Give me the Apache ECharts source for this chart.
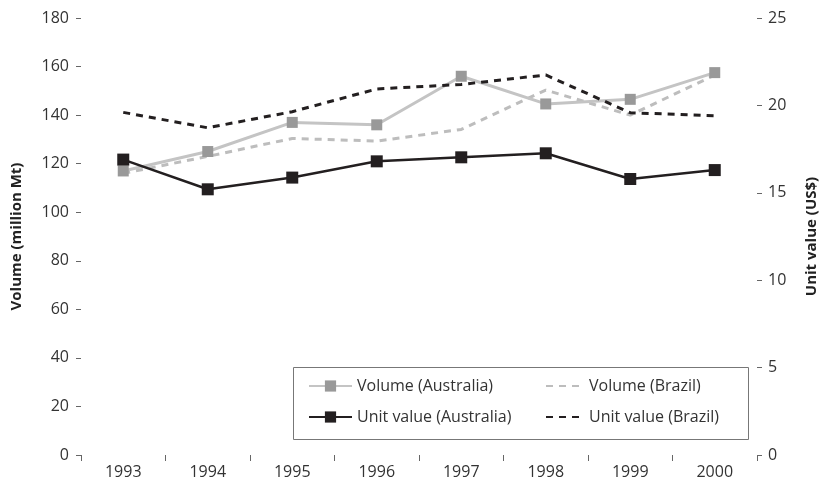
<!DOCTYPE html>
<html>
<head>
<meta charset="utf-8">
<script src="https://cdn.jsdelivr.net/npm/echarts@6/dist/echarts.min.js"></script>
<style>
  html, body { margin:0; padding:0; background:#fff; }
  #chart { width:823px; height:488px; }
</style>
</head>
<body>
<div id="chart"></div>
<script>
const years = ['1993','1994','1995','1996','1997','1998','1999','2000'];
const volumeAustralia = [117, 125, 137, 136, 156, 144.6, 146.5, 157.5];
const volumeBrazil = [116, 123, 130.4, 129.3, 134.1, 150.3, 140, 156.5];
const unitAustralia = [16.9, 15.2, 15.87, 16.8, 17.03, 17.26, 15.79, 16.3];
const unitBrazil = [19.6, 18.72, 19.64, 20.94, 21.2, 21.74, 19.58, 19.41];

const FONT = '"Open Sans", "Noto Sans", sans-serif';
const TXT = '#333';

const chart = echarts.init(document.getElementById('chart'));

const legendText = { fontFamily: FONT, fontSize: 16, color: TXT };
const noSymbol = { opacity: 0 };

chart.setOption({
  backgroundColor: '#fff',
  animation: false,
  textStyle: { fontFamily: FONT },
  grid: { left: 81, right: 66, top: 18, bottom: 33, outerBoundsMode: 'none', containLabel: false },
  graphic: [{
    type: 'rect',
    left: 293, top: 367,
    shape: { width: 455, height: 72 },
    style: { fill: '#fff', stroke: '#777', lineWidth: 1 },
    z: 5
  }],
  legend: [
    {
      orient: 'vertical',
      left: 303, top: 373,
      itemWidth: 43, itemHeight: 14, itemGap: 15,
      textStyle: legendText,
      data: ['Volume (Australia)', 'Unit value (Australia)'],
      z: 10
    },
    {
      orient: 'vertical',
      left: 540, top: 373,
      itemWidth: 38, itemHeight: 14, itemGap: 15,
      textStyle: legendText,
      data: [
        { name: 'Volume (Brazil)', itemStyle: noSymbol },
        { name: 'Unit value (Brazil)', itemStyle: noSymbol }
      ],
      z: 10
    }
  ],
  xAxis: {
    type: 'category',
    data: years,
    boundaryGap: true,
    axisLine: { show: false },
    axisTick: { show: true, interval: 0, length: 6, lineStyle: { color: '#666' } },
    axisLabel: { fontFamily: FONT, fontSize: 16, color: TXT, margin: 9 }
  },
  yAxis: [
    {
      type: 'value',
      min: 0, max: 180, interval: 20,
      name: 'Volume (million Mt)',
      nameLocation: 'middle',
      nameGap: 57,
      nameTextStyle: { fontFamily: FONT, fontSize: 15, fontWeight: 'bold', color: '#222' },
      axisLine: { show: false },
      axisTick: { show: true, length: 5, lineStyle: { color: '#666' } },
      axisLabel: { fontFamily: FONT, fontSize: 16, color: TXT, margin: 12 },
      splitLine: { show: false }
    },
    {
      type: 'value',
      min: 0, max: 25, interval: 5,
      name: 'Unit value (US$)',
      nameLocation: 'middle',
      nameGap: 47,
      nameTextStyle: { fontFamily: FONT, fontSize: 15, fontWeight: 'bold', color: '#222' },
      axisLine: { show: false },
      axisTick: { show: true, length: 5, lineStyle: { color: '#666' } },
      axisLabel: { fontFamily: FONT, fontSize: 16, color: TXT, margin: 11 },
      splitLine: { show: false }
    }
  ],
  series: [
    {
      name: 'Volume (Australia)',
      type: 'line',
      yAxisIndex: 0,
      data: volumeAustralia,
      symbol: 'rect',
      symbolSize: 11,
      itemStyle: { color: '#999' },
      lineStyle: { color: '#c4c4c4', width: 3 },
      z: 3
    },
    {
      name: 'Volume (Brazil)',
      type: 'line',
      yAxisIndex: 0,
      data: volumeBrazil,
      symbol: 'none',
      itemStyle: { color: '#bdbdbd' },
      lineStyle: { color: '#bdbdbd', width: 3, type: [7, 6] },
      z: 2
    },
    {
      name: 'Unit value (Australia)',
      type: 'line',
      yAxisIndex: 1,
      data: unitAustralia,
      symbol: 'rect',
      symbolSize: 12,
      itemStyle: { color: '#231f20' },
      lineStyle: { color: '#231f20', width: 2.5 },
      z: 4
    },
    {
      name: 'Unit value (Brazil)',
      type: 'line',
      yAxisIndex: 1,
      data: unitBrazil,
      symbol: 'none',
      itemStyle: { color: '#231f20' },
      lineStyle: { color: '#231f20', width: 3, type: [7, 6] },
      z: 4
    }
  ]
});
</script>
</body>
</html>
